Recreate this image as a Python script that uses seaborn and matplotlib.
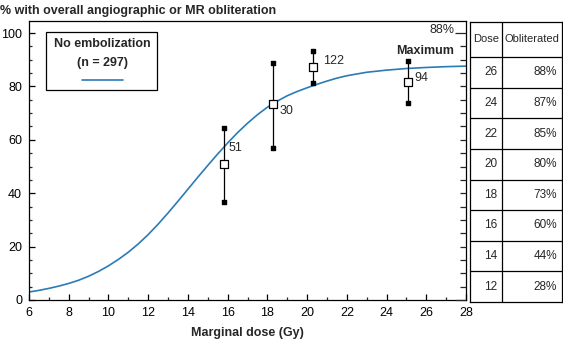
import matplotlib
matplotlib.use("Agg")
import matplotlib.pyplot as plt
import seaborn as sns
import pandas as pd
from matplotlib.ticker import MultipleLocator
from matplotlib.patches import Rectangle

# ---- data ----
curve_dose = [6, 6.5, 7, 7.5, 8, 8.5, 9, 9.5, 10, 10.5, 11, 11.5, 12, 12.5, 13, 13.5, 14, 14.5,
              15, 15.5, 16, 16.5, 17, 17.5, 18, 18.5, 19, 19.5, 20, 20.5, 21, 21.5, 22, 23,
              24, 25, 26, 27, 28]
curve_pct = [3.0, 3.6, 4.35, 5.2, 6.2, 7.4, 8.9, 10.7, 12.8, 15.2, 17.9, 21.0, 24.5, 28.4, 32.6,
             37.0, 41.5, 46.0, 50.4, 54.7, 58.8, 62.7, 66.2, 69.4, 72.2, 74.5, 76.5, 78.1,
             79.5, 80.8, 82.0, 83.1, 84.0, 85.3, 86.1, 86.7, 87.1, 87.4, 87.6]

obs_dose = [15.8, 18.3, 20.3, 25.1]
obs_pct = [51.0, 73.3, 87.3, 81.7]
obs_low = [36.7, 57.0, 81.4, 73.8]
obs_high = [64.3, 88.9, 93.2, 89.4]
obs_n = ["51", "30", "122", "94"]

table_dose = ["26", "24", "22", "20", "18", "16", "14", "12"]
table_obl = ["88%", "87%", "85%", "80%", "73%", "60%", "44%", "28%"]

line_color = "#2b7bb6"

sns.set_style("white")
plt.rcParams["font.family"] = ["Liberation Sans", "DejaVu Sans"]

W, H = 563, 342
fig = plt.figure(figsize=(W / 100, H / 100), dpi=100)
ax = fig.add_axes([29 / W, (H - 300) / H, (466 - 29) / W, (300 - 21) / H])

curve_df = pd.DataFrame({"dose": curve_dose, "pct": curve_pct})
obs_df = pd.DataFrame({"dose": obs_dose, "pct": obs_pct})

sns.lineplot(data=curve_df, x="dose", y="pct", color=line_color, lw=1.2, ax=ax, zorder=2)

# error bars
ax.vlines(obs_dose, obs_low, obs_high, color="black", lw=0.9, zorder=3)
ax.scatter(obs_dose + obs_dose, obs_low + obs_high, marker="s", s=9, color="black", zorder=4)
sns.scatterplot(data=obs_df, x="dose", y="pct", marker="s", s=38, facecolor="white",
                edgecolor="black", linewidth=0.9, ax=ax, zorder=5)

offsets = [(5, 16), (6, -7), (10, 6), (6, 4)]
for d, p, n, off in zip(obs_dose, obs_pct, obs_n, offsets):
    ax.annotate(n, (d, p), xytext=off, textcoords="offset pixels", ha="left", va="center",
                fontsize=9)

ax.set_xlim(6, 28)
ax.set_ylim(0, 104.5)
ax.xaxis.set_major_locator(MultipleLocator(2))
ax.xaxis.set_minor_locator(MultipleLocator(1))
ax.yaxis.set_major_locator(MultipleLocator(20))
ax.yaxis.set_minor_locator(MultipleLocator(5))
ax.tick_params(which="major", direction="in", length=4.5, width=0.9, labelsize=9, pad=5,
               left=True, bottom=True, colors="black")
ax.tick_params(which="minor", direction="in", length=2.2, width=0.9, left=True, bottom=True)
for s in ax.spines.values():
    s.set_color("black")
    s.set_linewidth(0.9)
ax.set_xlabel("Marginal dose (Gy)", fontsize=9, fontweight="bold", labelpad=6)
ax.set_ylabel("")

# right-side ticks
axr = ax.twinx()
axr.set_ylim(ax.get_ylim())
axr.yaxis.set_major_locator(MultipleLocator(100))
axr.yaxis.set_minor_locator(MultipleLocator(5))
axr.tick_params(which="major", direction="in", length=8, width=0.9, labelright=False)
axr.tick_params(which="minor", direction="in", length=4, width=0.9)
for s in axr.spines.values():
    s.set_visible(False)

ax.text(27.4, 101.0, "88%", ha="right", va="center", fontsize=9)
ax.text(27.4, 93.3, "Maximum", ha="right", va="center", fontsize=9, fontweight="bold")

# legend box
ax.add_patch(Rectangle((0.039, 0.754), 0.254, 0.207, transform=ax.transAxes, fill=False,
                       edgecolor="black", lw=0.9, zorder=6))
ax.text(0.168, 0.918, "No embolization", transform=ax.transAxes, ha="center", va="center",
        fontsize=9, fontweight="bold")
ax.text(0.168, 0.850, "(n = 297)", transform=ax.transAxes, ha="center", va="center",
        fontsize=9, fontweight="bold")
ax.plot([0.121, 0.215], [0.79, 0.79], transform=ax.transAxes, color=line_color, lw=1.2)

# title
fig.text(0.0, 0.985, "% with overall angiographic or MR obliteration", ha="left", va="top",
         fontsize=9, fontweight="bold")

# table
tab = fig.add_axes([470 / W, (H - 302) / H, (562 - 470) / W, (302 - 22) / H])
tab.set_xlim(0, 1)
tab.set_ylim(0, 1)
tab.set_xticks([])
tab.set_yticks([])
for s in tab.spines.values():
    s.set_color("black")
    s.set_linewidth(0.9)
hdr = 35 / 280
rowh = (1 - hdr) / len(table_dose)
div = 0.348
tab.axvline(div, color="black", lw=0.9)
tab.text(div / 2, 1 - hdr / 2, "Dose", ha="center", va="center", fontsize=8)
tab.text((div + 1) / 2, 1 - hdr / 2, "Obliterated", ha="center", va="center", fontsize=8)
for i, (d, o) in enumerate(zip(table_dose, table_obl)):
    top = 1 - hdr - i * rowh
    tab.axhline(top, color="black", lw=0.9)
    yc = top - rowh / 2
    tab.text(0.30, yc, d, ha="right", va="center", fontsize=8.5)
    tab.text(0.946, yc, o, ha="right", va="center", fontsize=8.5)

fig.savefig("out.png", dpi=100)
